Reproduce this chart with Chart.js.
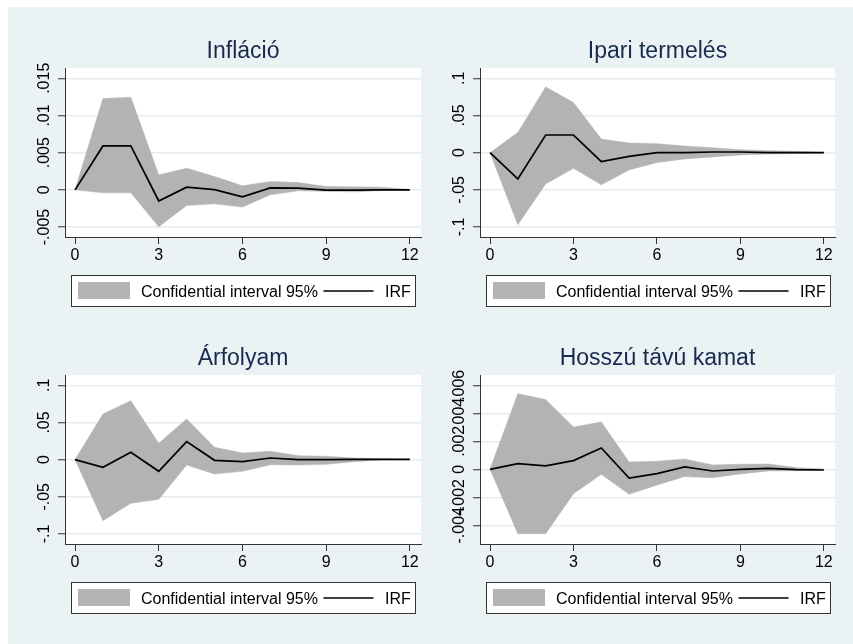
<!DOCTYPE html>
<html>
<head>
<meta charset="utf-8">
<script src="https://cdn.jsdelivr.net/npm/chart.js@4.4.1/dist/chart.umd.min.js"></script>
<style>
  html, body { margin: 0; padding: 0; background: #fff; }
  body { width: 853px; height: 644px; position: relative; overflow: hidden; }
  #bg { position: absolute; left: 8px; top: 7px; right: 0; bottom: 0; background: #eaf2f3; }
  canvas { position: absolute; }
</style>
</head>
<body>
<div id="bg"></div>
<canvas id="c1" width="426" height="320" style="left:0;top:0"></canvas>
<canvas id="c2" width="427" height="320" style="left:426px;top:0"></canvas>
<canvas id="c3" width="426" height="324" style="left:0;top:320px"></canvas>
<canvas id="c4" width="427" height="324" style="left:426px;top:320px"></canvas>
<script>
// horizon (steps after the shock)
const steps = [0, 1, 2, 3, 4, 5, 6, 7, 8, 9, 10, 11, 12];
const xTicks = [0, 3, 6, 9, 12];
const xLabels = ['0', '3', '6', '9', '12'];
const legendLabels = ['Confidential interval 95%', 'IRF'];

// Infláció
const inflIrf = [0, 0.0059, 0.0059, -0.0015, 0.00036, 0.00003, -0.00094, 0.00027, 0.00022, -0.00004, -0.00004, 0, 0];
const inflUp  = [0, 0.01228, 0.01246, 0.00201, 0.0029, 0.00179, 0.00054, 0.00112, 0.00098, 0.00045, 0.0004, 0.00036, 0.00005];
const inflLo  = [0, -0.0004, -0.0004, -0.00496, -0.0021, -0.00188, -0.00232, -0.00067, -0.00013, -0.0002, -0.00027, -0.0001, -0.00004];
const inflTicks = [-0.005, 0, 0.005, 0.01, 0.015];
const inflLabels = ['-.005', '0', '.005', '.01', '.015'];

// Ipari termelés
const indIrf = [0, -0.0353, 0.0237, 0.0237, -0.0121, -0.0049, 0, 0, 0.0009, 0.0009, 0, 0, 0];
const indUp  = [0, 0.0272, 0.0884, 0.0674, 0.0183, 0.0129, 0.012, 0.0089, 0.0067, 0.004, 0.0027, 0.0018, 0.0004];
const indLo  = [0, -0.0969, -0.042, -0.021, -0.0433, -0.0232, -0.0134, -0.0085, -0.0058, -0.0031, -0.0018, -0.0013, -0.0009];

// Árfolyam
const fxIrf = [0, -0.0103, 0.0099, -0.0157, 0.0242, -0.0009, -0.0027, 0.0022, 0, 0, 0.0004, 0.0004, 0.0004];
const fxUp  = [0, 0.0614, 0.0794, 0.022, 0.0547, 0.0166, 0.009, 0.0112, 0.0054, 0.0045, 0.0022, 0.0013, 0.0004];
const fxLo  = [0, -0.0821, -0.0587, -0.0534, -0.0072, -0.0193, -0.0157, -0.0067, -0.0072, -0.0063, -0.0027, -0.0004, 0];

const tenthTicks = [-0.1, -0.05, 0, 0.05, 0.1];
const tenthLabels = ['-.1', '-.05', '0', '.05', '.1'];

// Hosszú távú kamat
const rateIrf = [0, 0.0004, 0.00024, 0.00062, 0.00152, -0.00062, -0.00031, 0.00017, -0.00012, 0, 0.00007, -0.00002, -0.00005];
const rateUp  = [0, 0.0054, 0.00498, 0.00302, 0.00338, 0.00052, 0.00057, 0.00074, 0.00031, 0.00036, 0.00038, 0.00012, 0.00002];
const rateLo  = [0, -0.0046, -0.0046, -0.00174, -0.00036, -0.00179, -0.00112, -0.00052, -0.0006, -0.00033, -0.00012, -0.0001, -0.00007];
const rateTicks = [-0.004, -0.002, 0, 0.002, 0.004, 0.006];
const rateLabels = ['-.004', '-.002', '0', '.002', '.004', '.006'];

const FONT = '"Liberation Sans", Arial, sans-serif';
const bandColor = '#b3b3b3';
const axisColor = '#333333';
const gridColor = '#e3ecef';
Chart.defaults.font.family = FONT;

function pts(arr) { return steps.map((s, i) => ({ x: s, y: arr[i] })); }

// centre the rotated y labels ~20px left of the axis
function yPad(labels) {
  const c = document.createElement('canvas').getContext('2d');
  c.font = '16px ' + FONT;
  const w = Math.max(...labels.map(s => c.measureText(s).width));
  return 13 - w / 2;
}

const plotBg = {
  id: 'plotBg',
  beforeDraw(chart) {
    const a = chart.chartArea, ctx = chart.ctx;
    ctx.save();
    ctx.fillStyle = '#fff';
    ctx.fillRect(a.left, a.top, a.right - a.left, a.bottom - a.top);
    ctx.restore();
  }
};

const irfLegend = {
  id: 'irfLegend',
  afterDraw(chart) {
    const a = chart.chartArea, ctx = chart.ctx;
    const w = 344, h = 31;
    const L = Math.round((a.left + a.right) / 2 - w / 2) + 0.5;
    const T = Math.round(a.bottom + 38) + 0.5;
    ctx.save();
    ctx.fillStyle = '#fff';
    ctx.fillRect(L, T, w, h);
    ctx.strokeStyle = axisColor;
    ctx.lineWidth = 1;
    ctx.strokeRect(L, T, w, h);
    ctx.fillStyle = bandColor;
    ctx.fillRect(L + 6.5, T + 6.5, 52, 17);
    ctx.font = '16px ' + FONT;
    ctx.fillStyle = '#000';
    ctx.textBaseline = 'alphabetic';
    ctx.fillText(legendLabels[0], L + 69.5, T + 21.5);
    ctx.strokeStyle = '#000';
    ctx.lineWidth = 1.5;
    ctx.beginPath();
    ctx.moveTo(L + 252, T + 15.5);
    ctx.lineTo(L + 302, T + 15.5);
    ctx.stroke();
    ctx.fillText(legendLabels[1], L + 313.5, T + 21.5);
    ctx.restore();
  }
};

function makePanel(id, title, irf, up, lo, yTicks, yLabels, yMin, yMax, top, yWidth, padRight) {
  const pad = top
    ? { top: 38.2, bottom: 47, left: 0, right: padRight }
    : { top: 25.2, bottom: 64, left: 0, right: padRight };
  new Chart(document.getElementById(id), {
    type: 'line',
    data: {
      datasets: [
        { label: legendLabels[1], data: pts(irf), borderColor: '#000', borderWidth: 1.7, pointRadius: 0, fill: false },
        { label: legendLabels[0], data: pts(up), borderColor: bandColor, borderWidth: 0.5, backgroundColor: bandColor, pointRadius: 0, fill: '+1' },
        { label: 'lower', data: pts(lo), borderColor: bandColor, borderWidth: 0.5, pointRadius: 0, fill: false }
      ]
    },
    options: {
      responsive: false,
      animation: false,
      layout: { padding: pad },
      plugins: {
        legend: { display: false },
        tooltip: { enabled: false },
        title: {
          display: true, text: title, fullSize: false,
          color: '#1a2a4f',
          font: { size: 23, weight: 'normal' },
          padding: { top: 0, bottom: 2.2 }
        }
      },
      scales: {
        x: {
          type: 'linear', min: -0.36, max: 12.4,
          afterBuildTicks: s => { s.ticks = xTicks.map(v => ({ value: v })); },
          afterFit: s => { s.height = 36; },
          ticks: { autoSkip: false, maxRotation: 0, padding: 2, color: '#000', font: { size: 16 },
                   callback: (v, i) => xLabels[i] },
          grid: { drawOnChartArea: false, tickColor: axisColor, tickLength: 7, tickWidth: 1 },
          border: { color: axisColor, width: 1 }
        },
        y: {
          type: 'linear', min: yMin, max: yMax,
          afterBuildTicks: s => { s.ticks = yTicks.map(v => ({ value: v })); },
          afterFit: s => { s.width = yWidth; },
          ticks: { autoSkip: false, minRotation: 90, maxRotation: 90, crossAlign: 'center',
                   padding: yPad(yLabels), color: '#000', font: { size: 16 },
                   callback: (v, i) => yLabels[i] },
          grid: { color: gridColor, lineWidth: 1.5, tickColor: axisColor, tickLength: 7, tickWidth: 1 },
          border: { color: axisColor, width: 1 }
        }
      }
    },
    plugins: [plotBg, irfLegend]
  });
}

makePanel('c1', 'Infláció', inflIrf, inflUp, inflLo, inflTicks, inflLabels, -0.006342, 0.016383, true, 65, 5);
makePanel('c2', 'Ipari termelés', indIrf, indUp, indLo, tenthTicks, tenthLabels, -0.1134, 0.1138, true, 54, 18);
makePanel('c3', 'Árfolyam', fxIrf, fxUp, fxLo, tenthTicks, tenthLabels, -0.1135, 0.1139, false, 65, 5);
makePanel('c4', 'Hosszú távú kamat', rateIrf, rateUp, rateLo, rateTicks, rateLabels, -0.005336, 0.006736, false, 54, 18);
</script>
</body>
</html>
